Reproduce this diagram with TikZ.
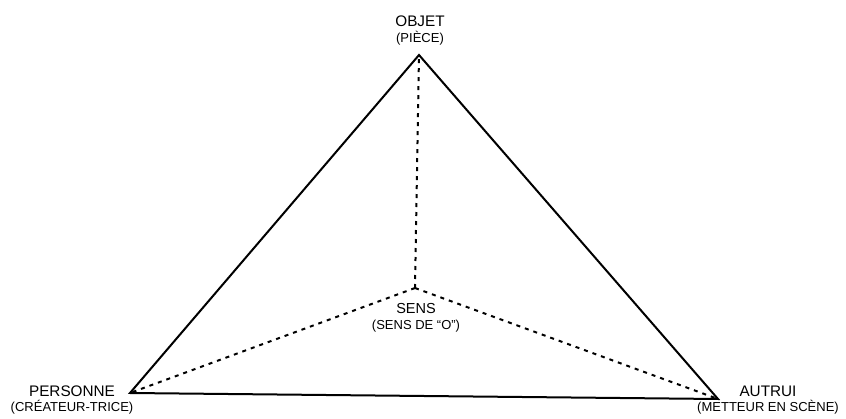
\documentclass[tikz,border=0pt]{standalone}
\usepackage{fontspec}
\setmainfont{Liberation Sans}
\usetikzlibrary{positioning}
\newcommand\sublbl{\fontsize{13}{16}\selectfont}
\begin{document}
\begin{tikzpicture}[x=1pt,y=-1pt,
 lbl/.style={align=center,inner sep=0pt,anchor=base,font=\fontsize{15.3}{16}\selectfont},
 edge/.style={line width=2pt,line join=miter},
 link/.style={line width=2pt,dash pattern=on 4pt off 5pt}]
\useasboundingbox (0,0) rectangle (846,419);
\coordinate (o) at (419,55);
\coordinate (p) at (130,393);
\coordinate (a) at (718,399);
\coordinate (s) at (415,288);
\draw[link](s)--(o);\draw[link](s)--(p);\draw[link](s)--(a);
\draw[edge](o)--(p)--(a)--cycle;
% base anchor sits on the second line
\node[lbl](objet) at (420,43){OBJET\\\sublbl (PIÈCE)};
\node[lbl](personne) at (72,412){PERSONNE\\\sublbl (CRÉATEUR-TRICE)};
\node[lbl](autrui) at (768,412){AUTRUI\\\sublbl (METTEUR EN SCÈNE)};
\node[lbl,font=\fontsize{14.5}{16}\selectfont](sens) at (416,330){SENS\\\sublbl (SENS DE “O”)};
\end{tikzpicture}
\end{document}
